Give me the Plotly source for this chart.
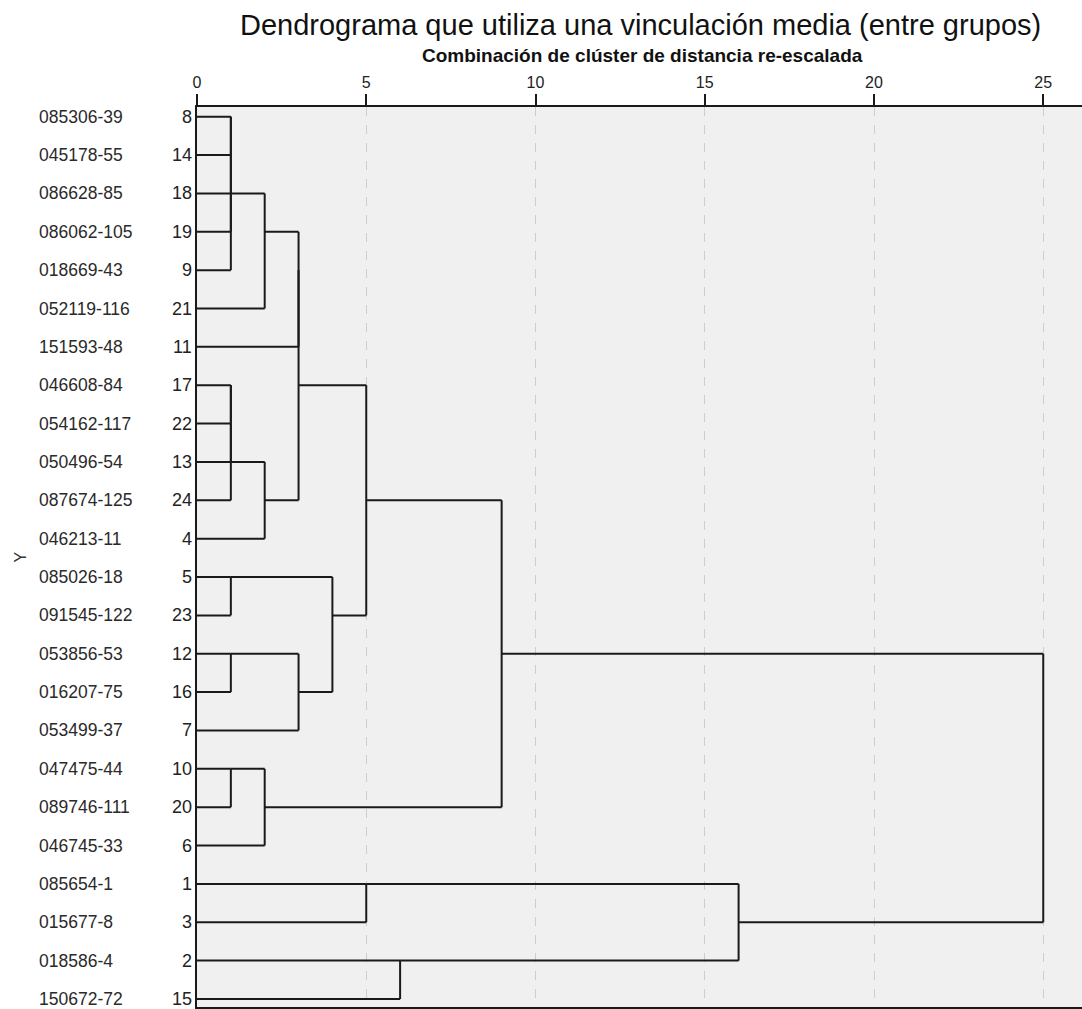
import plotly.graph_objects as go
import math

# ---------------- data ----------------
case_numbers = [8, 14, 18, 19, 9, 21, 11, 17, 22, 13, 24, 4,
                5, 23, 12, 16, 7, 10, 20, 6, 1, 3, 2, 15]
case_names = ["085306-39", "045178-55", "086628-85", "086062-105", "018669-43",
              "052119-116", "151593-48", "046608-84", "054162-117", "050496-54",
              "087674-125", "046213-11", "085026-18", "091545-122", "053856-53",
              "016207-75", "053499-37", "047475-44", "089746-111", "046745-33",
              "085654-1", "015677-8", "018586-4", "150672-72"]

# agglomeration steps: (cluster a, cluster b, rescaled distance)
# ints are case numbers, "M<k>" refers to the k-th merge
merge_a = [8, 18, "M0", "M2", "M3", "M4", 17, "M6", "M7", "M8", "M5",
           5, 12, "M12", "M11", "M10", 10, "M16", "M15", 1, 2, "M19", "M18"]
merge_b = [14, 19, "M1", 9, 21, 11, 22, 13, 24, 4, "M9",
           23, 16, 7, "M13", "M14", 20, 6, "M17", 3, 15, "M20", "M21"]
merge_dist = [1, 1, 1, 1, 2, 3, 1, 1, 1, 2, 3,
              1, 1, 3, 4, 5, 1, 2, 9, 5, 6, 16, 25]

x_ticks = [0, 5, 10, 15, 20, 25]

title_text = "Dendrograma que utiliza una vinculación media (entre grupos)"
subtitle_text = "Combinación de clúster de distancia re-escalada"
y_title = "Y"

# ---------------- build dendrogram segments ----------------
row_of_case = {c: i + 1 for i, c in enumerate(case_numbers)}
node_row = {}
node_x = {}
for c, r in row_of_case.items():
    node_row[c] = r
    node_x[c] = 0.0

xs, ys = [], []
for k, (a, b, d) in enumerate(zip(merge_a, merge_b, merge_dist)):
    for ch in (a, b):
        if node_x[ch] != d:
            xs += [node_x[ch], d, None]
            ys += [node_row[ch], node_row[ch], None]
    ra, rb = node_row[a], node_row[b]
    xs += [d, d, None]
    ys += [min(ra, rb), max(ra, rb), None]
    key = "M%d" % k
    node_row[key] = math.floor((ra + rb) / 2)
    node_x[key] = d

fig = go.Figure()
fig.add_trace(go.Scatter(x=xs, y=ys, mode="lines",
                         line=dict(color="#1a1a1a", width=2),
                         hoverinfo="skip", showlegend=False))

FONT = "Liberation Sans, Arial, sans-serif"
W, H = 1082, 1009
L, R, T, B = 197, 0, 107, 2
plot_w = W - L - R
plot_h = H - T - B


def px_x(px):
    return (px - L) / plot_w


def px_y(py):
    return (H - B - py) / plot_h


annotations = []
for i, (c, nm) in enumerate(zip(case_numbers, case_names)):
    row = i + 1
    annotations.append(dict(x=0, xref="paper", y=row, yref="y", text=str(c),
                            xanchor="right", yanchor="middle", xshift=-3,
                            showarrow=False,
                            font=dict(family=FONT, size=18, color="#222222")))
    annotations.append(dict(x=px_x(37), xref="paper", y=row, yref="y",
                            text=nm, xanchor="left", yanchor="middle",
                            showarrow=False,
                            font=dict(family=FONT, size=17.5, color="#2a2a2a")))

annotations.append(dict(x=px_x(19.5), xref="paper", y=0.5, yref="paper",
                        text=y_title, textangle=-90, showarrow=False,
                        xanchor="center", yanchor="middle",
                        font=dict(family=FONT, size=16, color="#333333")))
annotations.append(dict(x=px_x(640), xref="paper", y=px_y(25), yref="paper",
                        text=title_text, showarrow=False,
                        xanchor="center", yanchor="middle",
                        font=dict(family=FONT, size=29, color="#111111")))
annotations.append(dict(x=px_x(642), xref="paper", y=px_y(55), yref="paper",
                        text="<b>" + subtitle_text + "</b>", showarrow=False,
                        xanchor="center", yanchor="middle",
                        font=dict(family=FONT, size=19, color="#111111")))

fig.update_layout(
    width=W, height=H,
    margin=dict(l=L, r=R, t=T, b=B, pad=0),
    paper_bgcolor="white",
    plot_bgcolor="#f0f0f0",
    annotations=annotations,
    xaxis=dict(side="top", range=[0, 885 / 33.85], tickvals=x_ticks,
               ticks="outside", ticklen=11, tickwidth=1.5, tickcolor="#1a1a1a",
               ticklabelstandoff=0,
               showline=True, linecolor="#1a1a1a", linewidth=2, mirror=True,
               showgrid=True, gridcolor="#cdcdcd", gridwidth=1, griddash="dash",
               zeroline=False,
               tickfont=dict(family=FONT, size=16, color="#222222")),
    yaxis=dict(range=[24.209, 0.747], showticklabels=False, ticks="",
               showline=True, linecolor="#1a1a1a", linewidth=2,
               showgrid=False, zeroline=False),
)

fig.write_html("out.html")
